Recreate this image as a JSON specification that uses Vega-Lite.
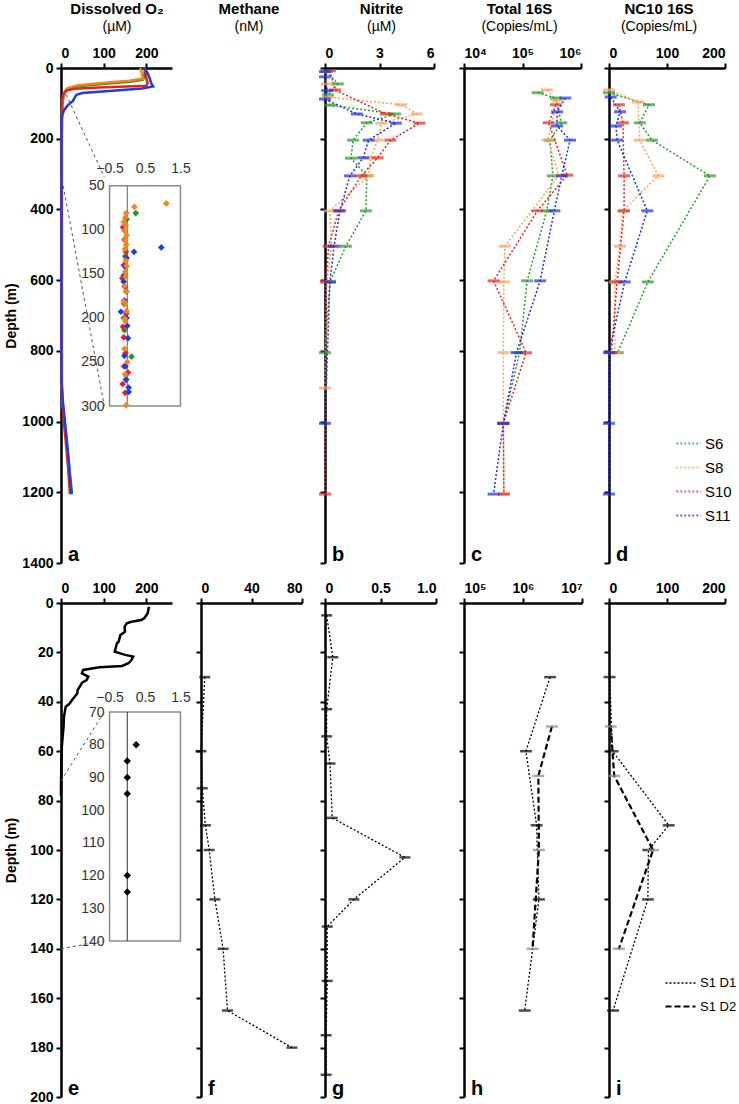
{
 "$schema": "https://vega.github.io/schema/vega-lite/v6.json",
 "padding": {"left": 4, "top": 2, "right": 0, "bottom": 0},
 "columns": 5,
 "spacing": {"row": 40, "column": 0},
 "bounds": "flush",
 "resolve": {"scale": {"color": "independent", "strokeDash": "independent", "strokeWidth": "independent"}},
 "config": {
  "font": "Liberation Sans",
  "view": {"stroke": null},
  "axis": {"domainColor": "black", "domainWidth": 2.5, "tickColor": "black", "tickWidth": 2, "tickSize": 5, "labelFontSize": 14, "labelFontWeight": "bold", "labelColor": "black", "labelPadding": 3, "grid": false, "titleFontSize": 14, "titleFontWeight": "bold", "titleColor": "black"},
  "title": {"fontSize": 15, "fontWeight": "bold", "subtitleFontSize": 14, "subtitleFontWeight": "normal", "subtitleColor": "black", "subtitlePadding": 3, "anchor": "middle", "frame": "group", "offset": 12, "color": "black"},
  "legend": {"labelFontSize": 15, "labelColor": "black", "symbolType": "stroke", "symbolStrokeWidth": 2, "rowPadding": 2, "labelOffset": 3, "symbolStrokeColor": "black"}
 },
 "datasets": {
  "o2_top": [
   {"station":"S6","o2":195,"depth":0},{"station":"S6","o2":196,"depth":10},{"station":"S6","o2":195,"depth":25},{"station":"S6","o2":192,"depth":33},{"station":"S6","o2":162,"depth":39},{"station":"S6","o2":110,"depth":44},{"station":"S6","o2":50,"depth":50},{"station":"S6","o2":22,"depth":55},{"station":"S6","o2":12,"depth":62},{"station":"S6","o2":8,"depth":72},{"station":"S6","o2":5,"depth":85},{"station":"S6","o2":3,"depth":100},{"station":"S6","o2":2,"depth":130},{"station":"S6","o2":2,"depth":200},{"station":"S6","o2":2,"depth":400},{"station":"S6","o2":2,"depth":600},{"station":"S6","o2":2,"depth":800},{"station":"S6","o2":2,"depth":900},{"station":"S6","o2":4,"depth":950},{"station":"S6","o2":10,"depth":1020},{"station":"S6","o2":17,"depth":1100},{"station":"S6","o2":22,"depth":1160},{"station":"S6","o2":26,"depth":1205},
   {"station":"S8","o2":185,"depth":0},{"station":"S8","o2":188,"depth":8},{"station":"S8","o2":190,"depth":20},{"station":"S8","o2":192,"depth":30},{"station":"S8","o2":160,"depth":36},{"station":"S8","o2":88,"depth":43},{"station":"S8","o2":40,"depth":49},{"station":"S8","o2":15,"depth":57},{"station":"S8","o2":9,"depth":66},{"station":"S8","o2":6,"depth":80},{"station":"S8","o2":4,"depth":100},{"station":"S8","o2":3,"depth":130},{"station":"S8","o2":2,"depth":200},{"station":"S8","o2":2,"depth":500},{"station":"S8","o2":2,"depth":900},{"station":"S8","o2":5,"depth":960},{"station":"S8","o2":12,"depth":1050},{"station":"S8","o2":18,"depth":1130},{"station":"S8","o2":22,"depth":1200},
   {"station":"S10","o2":196,"depth":0},{"station":"S10","o2":198,"depth":15},{"station":"S10","o2":200,"depth":30},{"station":"S10","o2":203,"depth":42},{"station":"S10","o2":200,"depth":50},{"station":"S10","o2":88,"depth":55},{"station":"S10","o2":30,"depth":59},{"station":"S10","o2":13,"depth":64},{"station":"S10","o2":6,"depth":72},{"station":"S10","o2":3,"depth":90},{"station":"S10","o2":2,"depth":120},{"station":"S10","o2":1,"depth":160},{"station":"S10","o2":1,"depth":400},{"station":"S10","o2":1,"depth":800},{"station":"S10","o2":1,"depth":900},{"station":"S10","o2":3,"depth":950},{"station":"S10","o2":9,"depth":1030},{"station":"S10","o2":16,"depth":1120},{"station":"S10","o2":21,"depth":1205},
   {"station":"S11","o2":196,"depth":0},{"station":"S11","o2":203,"depth":15},{"station":"S11","o2":208,"depth":30},{"station":"S11","o2":212,"depth":45},{"station":"S11","o2":216,"depth":52},{"station":"S11","o2":190,"depth":58},{"station":"S11","o2":120,"depth":64},{"station":"S11","o2":50,"depth":71},{"station":"S11","o2":36,"depth":76},{"station":"S11","o2":31,"depth":86},{"station":"S11","o2":28,"depth":93},{"station":"S11","o2":20,"depth":101},{"station":"S11","o2":14,"depth":108},{"station":"S11","o2":7,"depth":120},{"station":"S11","o2":3,"depth":133},{"station":"S11","o2":1,"depth":148},{"station":"S11","o2":1,"depth":300},{"station":"S11","o2":1,"depth":600},{"station":"S11","o2":1,"depth":880},{"station":"S11","o2":4,"depth":940},{"station":"S11","o2":11,"depth":1020},{"station":"S11","o2":18,"depth":1110},{"station":"S11","o2":24,"depth":1205}
  ],
  "o2_top_inset": [
   {"station":"S6","v":0.24,"depth":81},{"station":"S6","v":-0.02,"depth":88},{"station":"S6","v":-0.06,"depth":130},{"station":"S6","v":-0.1,"depth":200},{"station":"S6","v":-0.08,"depth":214},{"station":"S6","v":0.12,"depth":244},{"station":"S6","v":-0.04,"depth":270},
   {"station":"S10","v":-0.12,"depth":97},{"station":"S10","v":-0.08,"depth":111},{"station":"S10","v":-0.04,"depth":125},{"station":"S10","v":-0.1,"depth":140},{"station":"S10","v":-0.14,"depth":155},{"station":"S10","v":-0.06,"depth":165},{"station":"S10","v":-0.09,"depth":184},{"station":"S10","v":-0.03,"depth":195},{"station":"S10","v":-0.12,"depth":210},{"station":"S10","v":-0.1,"depth":222},{"station":"S10","v":-0.05,"depth":240},{"station":"S10","v":-0.09,"depth":255},{"station":"S10","v":0.02,"depth":262},{"station":"S10","v":-0.13,"depth":275},{"station":"S10","v":-0.06,"depth":285},
   {"station":"S11","v":0.96,"depth":120},{"station":"S11","v":0.19,"depth":125},{"station":"S11","v":-0.02,"depth":132},{"station":"S11","v":-0.06,"depth":142},{"station":"S11","v":-0.1,"depth":152},{"station":"S11","v":-0.1,"depth":159},{"station":"S11","v":-0.03,"depth":170},{"station":"S11","v":-0.08,"depth":180},{"station":"S11","v":-0.18,"depth":193},{"station":"S11","v":-0.02,"depth":200},{"station":"S11","v":0.0,"depth":209},{"station":"S11","v":0.02,"depth":223},{"station":"S11","v":-0.08,"depth":243},{"station":"S11","v":-0.05,"depth":255},{"station":"S11","v":-0.03,"depth":270},{"station":"S11","v":0.04,"depth":279},{"station":"S11","v":0.04,"depth":284},
   {"station":"S8","v":1.1,"depth":70},{"station":"S8","v":0.2,"depth":74},{"station":"S8","v":-0.03,"depth":81},{"station":"S8","v":-0.06,"depth":86},{"station":"S8","v":-0.1,"depth":91},{"station":"S8","v":-0.04,"depth":95},{"station":"S8","v":-0.08,"depth":101},{"station":"S8","v":-0.02,"depth":106},{"station":"S8","v":-0.06,"depth":111},{"station":"S8","v":-0.03,"depth":117},{"station":"S8","v":-0.07,"depth":122},{"station":"S8","v":-0.04,"depth":135},{"station":"S8","v":-0.02,"depth":141},{"station":"S8","v":-0.06,"depth":148},{"station":"S8","v":-0.05,"depth":153},{"station":"S8","v":-0.08,"depth":164},{"station":"S8","v":-0.03,"depth":170},{"station":"S8","v":-0.1,"depth":181},{"station":"S8","v":-0.06,"depth":184},{"station":"S8","v":-0.02,"depth":192},{"station":"S8","v":-0.07,"depth":201},{"station":"S8","v":-0.05,"depth":204},{"station":"S8","v":-0.08,"depth":235},{"station":"S8","v":0.0,"depth":250},{"station":"S8","v":-0.06,"depth":264},{"station":"S8","v":-0.03,"depth":299}
  ],
  "nitrite_top": [
   {"station":"S6","v":0.1,"depth":10},{"station":"S6","v":0.7,"depth":45},{"station":"S6","v":0.17,"depth":76},{"station":"S6","v":0.27,"depth":105},{"station":"S6","v":3.85,"depth":130},{"station":"S6","v":2.3,"depth":155},{"station":"S6","v":1.55,"depth":204},{"station":"S6","v":1.43,"depth":255},{"station":"S6","v":2.3,"depth":305},{"station":"S6","v":2.25,"depth":404},{"station":"S6","v":1.15,"depth":504},{"station":"S6","v":0.27,"depth":605},{"station":"S6","v":0.0,"depth":805},
   {"station":"S8","v":0.05,"depth":10},{"station":"S8","v":0.1,"depth":45},{"station":"S8","v":0.15,"depth":82},{"station":"S8","v":4.2,"depth":104},{"station":"S8","v":5.05,"depth":130},{"station":"S8","v":3.1,"depth":156},{"station":"S8","v":2.9,"depth":204},{"station":"S8","v":2.5,"depth":254},{"station":"S8","v":2.4,"depth":305},{"station":"S8","v":0.27,"depth":404},{"station":"S8","v":0.35,"depth":504},{"station":"S8","v":0.1,"depth":605},{"station":"S8","v":0.0,"depth":905},
   {"station":"S10","v":0.27,"depth":8},{"station":"S10","v":0.55,"depth":62},{"station":"S10","v":3.35,"depth":130},{"station":"S10","v":5.2,"depth":156},{"station":"S10","v":3.6,"depth":204},{"station":"S10","v":2.9,"depth":254},{"station":"S10","v":2.0,"depth":305},{"station":"S10","v":0.75,"depth":404},{"station":"S10","v":0.2,"depth":504},{"station":"S10","v":0.05,"depth":605},{"station":"S10","v":0.0,"depth":1205},
   {"station":"S11","v":0.0,"depth":10},{"station":"S11","v":0.0,"depth":25},{"station":"S11","v":0.12,"depth":64},{"station":"S11","v":0.0,"depth":88},{"station":"S11","v":1.75,"depth":130},{"station":"S11","v":3.9,"depth":156},{"station":"S11","v":2.4,"depth":204},{"station":"S11","v":2.1,"depth":254},{"station":"S11","v":1.37,"depth":305},{"station":"S11","v":0.82,"depth":404},{"station":"S11","v":0.5,"depth":504},{"station":"S11","v":0.27,"depth":605},{"station":"S11","v":0.0,"depth":1005}
  ],
  "total_top": [
   {"station":"S6","v":182000,"depth":70},{"station":"S6","v":370000,"depth":85},{"station":"S6","v":460000,"depth":155},{"station":"S6","v":295000,"depth":204},{"station":"S6","v":330000,"depth":305},{"station":"S6","v":260000,"depth":404},{"station":"S6","v":120000,"depth":602},{"station":"S6","v":89000,"depth":805},{"station":"S6","v":47000,"depth":1005},
   {"station":"S8","v":260000,"depth":62},{"station":"S8","v":390000,"depth":93},{"station":"S8","v":270000,"depth":204},{"station":"S8","v":420000,"depth":303},{"station":"S8","v":50000,"depth":504},{"station":"S8","v":48000,"depth":605},{"station":"S8","v":47000,"depth":805},{"station":"S8","v":47000,"depth":1005},{"station":"S8","v":48000,"depth":1205},
   {"station":"S10","v":370000,"depth":104},{"station":"S10","v":280000,"depth":155},{"station":"S10","v":580000,"depth":303},{"station":"S10","v":180000,"depth":404},{"station":"S10","v":32000,"depth":602},{"station":"S10","v":115000,"depth":805},{"station":"S10","v":47000,"depth":1005},{"station":"S10","v":48000,"depth":1205},
   {"station":"S11","v":540000,"depth":85},{"station":"S11","v":390000,"depth":124},{"station":"S11","v":390000,"depth":164},{"station":"S11","v":650000,"depth":204},{"station":"S11","v":470000,"depth":305},{"station":"S11","v":350000,"depth":404},{"station":"S11","v":200000,"depth":602},{"station":"S11","v":79000,"depth":805},{"station":"S11","v":47000,"depth":1005},{"station":"S11","v":32000,"depth":1205}
  ],
  "nc10_top": [
   {"station":"S6","v":0,"depth":70},{"station":"S6","v":69,"depth":104},{"station":"S6","v":53,"depth":155},{"station":"S6","v":74,"depth":204},{"station":"S6","v":174,"depth":305},{"station":"S6","v":67,"depth":605},{"station":"S6","v":15,"depth":805},
   {"station":"S8","v":0,"depth":62},{"station":"S8","v":50,"depth":96},{"station":"S8","v":53,"depth":204},{"station":"S8","v":85,"depth":305},{"station":"S8","v":24,"depth":404},{"station":"S8","v":19,"depth":504},{"station":"S8","v":10,"depth":605},{"station":"S8","v":10,"depth":805},
   {"station":"S10","v":17,"depth":104},{"station":"S10","v":24,"depth":155},{"station":"S10","v":26,"depth":305},{"station":"S10","v":26,"depth":404},{"station":"S10","v":14,"depth":605},{"station":"S10","v":4,"depth":805},
   {"station":"S11","v":3,"depth":82},{"station":"S11","v":19,"depth":124},{"station":"S11","v":12,"depth":164},{"station":"S11","v":14,"depth":204},{"station":"S11","v":66,"depth":404},{"station":"S11","v":27,"depth":605},{"station":"S11","v":0,"depth":805},{"station":"S11","v":0,"depth":1005},{"station":"S11","v":0,"depth":1205}
  ],
  "o2_bot": [
   {"o2":206,"depth":1.5},{"o2":203,"depth":4.2},{"o2":195,"depth":6.2},{"o2":188,"depth":6.9},{"o2":165,"depth":7.6},{"o2":154,"depth":8.2},{"o2":149,"depth":9.6},{"o2":150,"depth":11.6},{"o2":139,"depth":13},{"o2":135,"depth":15.7},{"o2":131,"depth":16.3},{"o2":128,"depth":18.3},{"o2":126,"depth":19.7},{"o2":150,"depth":21},{"o2":169,"depth":21.7},{"o2":165,"depth":23.1},{"o2":158,"depth":24.4},{"o2":143,"depth":25.5},{"o2":90,"depth":26},{"o2":52,"depth":27.1},{"o2":49,"depth":28.5},{"o2":64,"depth":29.8},{"o2":60,"depth":31.2},{"o2":49,"depth":32.3},{"o2":45,"depth":33.6},{"o2":39,"depth":35.2},{"o2":38,"depth":36.6},{"o2":26,"depth":39.3},{"o2":19,"depth":40.9},{"o2":11,"depth":42},{"o2":7,"depth":46},{"o2":6,"depth":50},{"o2":4,"depth":54},{"o2":2,"depth":58},{"o2":1,"depth":63.6},{"o2":0,"depth":74.4},{"o2":0,"depth":78}
  ],
  "o2_bot_inset": [
   {"v":0.25,"depth":80},{"v":0,"depth":85},{"v":0,"depth":90},{"v":0,"depth":95},{"v":0,"depth":120},{"v":0,"depth":125}
  ],
  "methane_bot": [
   {"v":3,"depth":30},{"v":0,"depth":60},{"v":1,"depth":75},{"v":3.5,"depth":90},{"v":6.5,"depth":100},{"v":11,"depth":120},{"v":17.5,"depth":140},{"v":21,"depth":165},{"v":72,"depth":180}
  ],
  "nitrite_bot": [
   {"v":0.015,"depth":5},{"v":0.07,"depth":22},{"v":0.015,"depth":43},{"v":0.015,"depth":54},{"v":0.045,"depth":65},{"v":0.065,"depth":87},{"v":0.72,"depth":103},{"v":0.26,"depth":120},{"v":0.02,"depth":131},{"v":0.02,"depth":153},{"v":0.01,"depth":175},{"v":0.01,"depth":191}
  ],
  "total_bot": [
   {"series":"S1 D1","v":2880000,"depth":30},{"series":"S1 D1","v":1120000,"depth":60},{"series":"S1 D1","v":1700000,"depth":90},{"series":"S1 D1","v":1860000,"depth":120},{"series":"S1 D1","v":1070000,"depth":165},
   {"series":"S1 D2","v":3090000,"depth":50},{"series":"S1 D2","v":1820000,"depth":70},{"series":"S1 D2","v":1860000,"depth":100},{"series":"S1 D2","v":1450000,"depth":140}
  ],
  "nc10_bot": [
   {"series":"S1 D1","v":1,"depth":30},{"series":"S1 D1","v":6,"depth":60},{"series":"S1 D1","v":103,"depth":90},{"series":"S1 D1","v":68,"depth":100},{"series":"S1 D1","v":67,"depth":120},{"series":"S1 D1","v":7,"depth":165},
   {"series":"S1 D2","v":3,"depth":50},{"series":"S1 D2","v":9,"depth":70},{"series":"S1 D2","v":76,"depth":100},{"series":"S1 D2","v":17,"depth":140}
  ]
 },
 "concat": [
  {
   "width": 140, "height": 495,
   "title": {"text": "Dissolved O₂", "subtitle": "(µM)", "dx": -14},
   "resolve": {"scale": {"x": "independent", "y": "independent"}},
   "layer": [
    {"layer": [
     {"data": {"name": "o2_top"}, "mark": {"type": "line", "strokeWidth": 2.5},
      "encoding": {
       "x": {"field": "o2", "type": "quantitative", "scale": {"domain": [0, 250], "range": [0, 111]}, "axis": {"orient": "top", "values": [0, 100, 200], "title": null}},
       "y": {"field": "depth", "type": "quantitative", "scale": {"domain": [0, 1400], "range": [0, 495]}, "axis": {"orient": "left", "values": [0, 200, 400, 600, 800, 1000, 1200, 1400], "format": "d", "title": "Depth (m)", "titlePadding": 3}},
       "color": {"field": "station", "type": "nominal", "scale": {"domain": ["S6", "S8", "S10", "S11"], "range": ["#2b8f2b", "#f2851d", "#e8231c", "#1e3de6"]}, "legend": null},
       "order": {"field": "depth", "type": "quantitative"}
      }},
     {"data": {"values": [{}]}, "mark": {"type": "rule", "strokeDash": [3, 3], "color": "#555", "strokeWidth": 1},
      "encoding": {"x": {"datum": 12}, "y": {"datum": 75}, "x2": {"datum": 101.4}, "y2": {"datum": 308}}},
     {"data": {"values": [{}]}, "mark": {"type": "rule", "strokeDash": [3, 3], "color": "#555", "strokeWidth": 1},
      "encoding": {"x": {"datum": 0}, "y": {"datum": 300}, "x2": {"datum": 101.4}, "y2": {"datum": 956}}},
     {"data": {"values": [{}]}, "mark": {"type": "text", "text": "a", "align": "left", "baseline": "alphabetic", "dx": 7, "dy": -2, "fontSize": 20, "fontWeight": "bold"},
      "encoding": {"x": {"datum": 0}, "y": {"datum": 1400}}}
    ]},
    {"layer": [
     {"data": {"values": [{}]}, "mark": {"type": "rect", "fill": "white", "stroke": "#8a8a8a", "strokeWidth": 1.5},
      "encoding": {
       "x": {"datum": -0.5, "type": "quantitative", "scale": {"domain": [-0.5, 1.5], "range": [45, 123]}, "axis": {"orient": "top", "offset": -109, "values": [-0.5, 0.5, 1.5], "format": ".1f", "domain": false, "ticks": false, "labelFontWeight": "normal", "labelColor": "#333", "labelPadding": 2, "title": null}},
       "x2": {"datum": 1.5},
       "y": {"datum": 50, "type": "quantitative", "scale": {"domain": [50, 300], "range": [109, 338]}, "axis": {"orient": "left", "offset": -45, "values": [50, 100, 150, 200, 250, 300], "domain": false, "ticks": false, "labelFontWeight": "normal", "labelColor": "#333", "labelPadding": 2, "title": null}},
       "y2": {"datum": 300}
      }},
     {"data": {"values": [{}]}, "mark": {"type": "rule", "color": "#666", "strokeWidth": 1},
      "encoding": {"x": {"datum": 0}, "y": {"datum": 50}, "y2": {"datum": 300}}},
     {"data": {"name": "o2_top_inset"}, "mark": {"type": "point", "shape": "diamond", "filled": true, "size": 45, "opacity": 1},
      "encoding": {"x": {"field": "v", "type": "quantitative"}, "y": {"field": "depth", "type": "quantitative"}, "color": {"field": "station", "type": "nominal", "legend": null}}}
    ]}
   ]
  },
  {
   "width": 124, "height": 495,
   "title": {"text": "Methane", "subtitle": "(nM)", "dx": -14, "offset": 34},
   "data": {"values": [{}]},
   "mark": {"type": "text", "text": ""},
   "encoding": {}
  },
  {
   "width": 139, "height": 495,
   "title": {"text": "Nitrite", "subtitle": "(µM)", "dx": -13},
   "layer": [
    {"data": {"name": "nitrite_top"}, "mark": {"type": "line", "strokeWidth": 1.5, "strokeDash": [2, 2]},
     "encoding": {
      "x": {"field": "v", "type": "quantitative", "scale": {"domain": [0, 6], "range": [0, 109]}, "axis": {"orient": "top", "values": [0, 3, 6], "title": null}},
      "y": {"field": "depth", "type": "quantitative", "scale": {"domain": [0, 1400], "range": [0, 495]}, "axis": {"orient": "left", "values": [0, 200, 400, 600, 800, 1000, 1200, 1400], "labels": false, "title": null}},
      "color": {"field": "station", "type": "nominal", "scale": {"domain": ["S6", "S8", "S10", "S11"], "range": ["#2a9a2a", "#f7a35c", "#e8251d", "#1a2fe8"]}, "legend": null},
      "order": {"field": "depth", "type": "quantitative"}
     }},
    {"data": {"name": "nitrite_top"}, "mark": {"type": "tick", "orient": "horizontal", "size": 12, "thickness": 3},
     "encoding": {"x": {"field": "v", "type": "quantitative"}, "y": {"field": "depth", "type": "quantitative"}, "color": {"field": "station", "type": "nominal", "legend": null}}},
    {"data": {"values": [{}]}, "mark": {"type": "text", "text": "b", "align": "left", "baseline": "alphabetic", "dx": 7, "dy": -2, "fontSize": 20, "fontWeight": "bold"},
     "encoding": {"x": {"datum": 0}, "y": {"datum": 1400}}}
   ]
  },
  {
   "width": 145, "height": 495,
   "title": {"text": "Total 16S", "subtitle": "(Copies/mL)", "dx": -17},
   "layer": [
    {"data": {"name": "total_top"}, "mark": {"type": "line", "strokeWidth": 1.5, "strokeDash": [2, 2]},
     "encoding": {
      "x": {"field": "v", "type": "quantitative", "scale": {"type": "log", "domain": [10000, 1000000], "range": [0, 117]}, "axis": {"orient": "top", "values": [10000, 100000, 1000000], "labelExpr": "datum.value < 50000 ? '10⁴' : datum.value < 500000 ? '10⁵' : '10⁶'", "title": null}},
      "y": {"field": "depth", "type": "quantitative", "scale": {"domain": [0, 1400], "range": [0, 495]}, "axis": {"orient": "left", "values": [0, 200, 400, 600, 800, 1000, 1200, 1400], "labels": false, "title": null}},
      "color": {"field": "station", "type": "nominal", "scale": {"domain": ["S6", "S8", "S10", "S11"], "range": ["#2a9a2a", "#f7a35c", "#e8251d", "#1a2fe8"]}, "legend": null},
      "order": {"field": "depth", "type": "quantitative"}
     }},
    {"data": {"name": "total_top"}, "mark": {"type": "tick", "orient": "horizontal", "size": 12, "thickness": 3},
     "encoding": {"x": {"field": "v", "type": "quantitative"}, "y": {"field": "depth", "type": "quantitative"}, "color": {"field": "station", "type": "nominal", "legend": null}}},
    {"data": {"values": [{}]}, "mark": {"type": "text", "text": "c", "align": "left", "baseline": "alphabetic", "dx": 7, "dy": -2, "fontSize": 20, "fontWeight": "bold"},
     "encoding": {"x": {"datum": 10000}, "y": {"datum": 1400}}}
   ]
  },
  {
   "width": 116, "height": 495,
   "title": {"text": "NC10 16S", "subtitle": "(Copies/mL)", "dx": -8},
   "layer": [
    {"data": {"name": "nc10_top"}, "mark": {"type": "line", "strokeWidth": 1.5, "strokeDash": [2, 2]},
     "encoding": {
      "x": {"field": "v", "type": "quantitative", "scale": {"domain": [0, 200], "range": [0, 116]}, "axis": {"orient": "top", "values": [0, 100, 200], "title": null}},
      "y": {"field": "depth", "type": "quantitative", "scale": {"domain": [0, 1400], "range": [0, 495]}, "axis": {"orient": "left", "values": [0, 200, 400, 600, 800, 1000, 1200, 1400], "labels": false, "title": null}},
      "color": {"field": "station", "type": "nominal", "scale": {"domain": ["S6", "S8", "S10", "S11"], "range": ["#2a9a2a", "#f7a35c", "#e8251d", "#1a2fe8"]}, "legend": {"orient": "none", "legendX": 66, "legendY": 362, "title": null, "symbolDash": [2, 2], "symbolSize": 600, "symbolStrokeColor": null}},
      "order": {"field": "depth", "type": "quantitative"}
     }},
    {"data": {"name": "nc10_top"}, "mark": {"type": "tick", "orient": "horizontal", "size": 12, "thickness": 3},
     "encoding": {"x": {"field": "v", "type": "quantitative"}, "y": {"field": "depth", "type": "quantitative"}, "color": {"field": "station", "type": "nominal", "legend": {"orient": "none", "legendX": 66, "legendY": 362, "title": null, "symbolDash": [2, 2], "symbolSize": 600, "symbolStrokeColor": null}}}},
    {"data": {"values": [{}]}, "mark": {"type": "text", "text": "d", "align": "left", "baseline": "alphabetic", "dx": 7, "dy": -2, "fontSize": 20, "fontWeight": "bold"},
     "encoding": {"x": {"datum": 0}, "y": {"datum": 1400}}}
   ]
  },
  {
   "width": 140, "height": 494,
   "resolve": {"scale": {"x": "independent", "y": "independent"}},
   "layer": [
    {"layer": [
     {"data": {"name": "o2_bot"}, "mark": {"type": "line", "strokeWidth": 2.5, "color": "black"},
      "encoding": {
       "x": {"field": "o2", "type": "quantitative", "scale": {"domain": [0, 250], "range": [0, 111]}, "axis": {"orient": "top", "values": [0, 100, 200], "title": null}},
       "y": {"field": "depth", "type": "quantitative", "scale": {"domain": [0, 200], "range": [0, 494]}, "axis": {"orient": "left", "values": [0, 20, 40, 60, 80, 100, 120, 140, 160, 180, 200], "title": "Depth (m)", "titlePadding": 11}},
       "order": {"field": "depth", "type": "quantitative"}
      }},
     {"data": {"values": [{}]}, "mark": {"type": "rule", "strokeDash": [3, 3], "color": "#555", "strokeWidth": 1},
      "encoding": {"x": {"datum": 0}, "y": {"datum": 72}, "x2": {"datum": 101.4}, "y2": {"datum": 44.1}}},
     {"data": {"values": [{}]}, "mark": {"type": "rule", "strokeDash": [3, 3], "color": "#555", "strokeWidth": 1},
      "encoding": {"x": {"datum": 0}, "y": {"datum": 140}, "x2": {"datum": 101.4}, "y2": {"datum": 136.8}}},
     {"data": {"values": [{}]}, "mark": {"type": "text", "text": "e", "align": "left", "baseline": "alphabetic", "dx": 7, "dy": -2, "fontSize": 20, "fontWeight": "bold"},
      "encoding": {"x": {"datum": 0}, "y": {"datum": 200}}}
    ]},
    {"layer": [
     {"data": {"values": [{}]}, "mark": {"type": "rect", "fill": "white", "stroke": "#8a8a8a", "strokeWidth": 1.5},
      "encoding": {
       "x": {"datum": -0.5, "type": "quantitative", "scale": {"domain": [-0.5, 1.5], "range": [45, 123]}, "axis": {"orient": "top", "offset": -109, "values": [-0.5, 0.5, 1.5], "format": ".1f", "domain": false, "ticks": false, "labelFontWeight": "normal", "labelColor": "#333", "labelPadding": 8, "title": null}},
       "x2": {"datum": 1.5},
       "y": {"datum": 70, "type": "quantitative", "scale": {"domain": [70, 140], "range": [109, 338]}, "axis": {"orient": "left", "offset": -45, "values": [70, 80, 90, 100, 110, 120, 130, 140], "domain": false, "ticks": false, "labelFontWeight": "normal", "labelColor": "#333", "labelPadding": 2, "title": null}},
       "y2": {"datum": 140}
      }},
     {"data": {"values": [{}]}, "mark": {"type": "rule", "color": "#333", "strokeWidth": 1},
      "encoding": {"x": {"datum": 0}, "y": {"datum": 70}, "y2": {"datum": 140}}},
     {"data": {"name": "o2_bot_inset"}, "mark": {"type": "point", "shape": "diamond", "filled": true, "size": 55, "opacity": 1, "color": "black"},
      "encoding": {"x": {"field": "v", "type": "quantitative"}, "y": {"field": "depth", "type": "quantitative"}}}
    ]}
   ]
  },
  {
   "width": 124, "height": 494,
   "layer": [
    {"data": {"name": "methane_bot"}, "mark": {"type": "line", "strokeWidth": 1.3, "strokeDash": [2, 2], "color": "black"},
     "encoding": {
      "x": {"field": "v", "type": "quantitative", "scale": {"domain": [0, 80], "range": [0, 101]}, "axis": {"orient": "top", "values": [0, 40, 80], "title": null}},
      "y": {"field": "depth", "type": "quantitative", "scale": {"domain": [0, 200], "range": [0, 494]}, "axis": {"orient": "left", "values": [0, 20, 40, 60, 80, 100, 120, 140, 160, 180, 200], "labels": false, "title": null}},
      "order": {"field": "depth", "type": "quantitative"}
     }},
    {"data": {"name": "methane_bot"}, "mark": {"type": "tick", "orient": "horizontal", "size": 11, "thickness": 2.5, "color": "black"},
     "encoding": {"x": {"field": "v", "type": "quantitative"}, "y": {"field": "depth", "type": "quantitative"}}},
    {"data": {"values": [{}]}, "mark": {"type": "text", "text": "f", "align": "left", "baseline": "alphabetic", "dx": 7, "dy": -2, "fontSize": 20, "fontWeight": "bold"},
     "encoding": {"x": {"datum": 0}, "y": {"datum": 200}}}
   ]
  },
  {
   "width": 139, "height": 494,
   "layer": [
    {"data": {"name": "nitrite_bot"}, "mark": {"type": "line", "strokeWidth": 1.3, "strokeDash": [2, 2], "color": "black"},
     "encoding": {
      "x": {"field": "v", "type": "quantitative", "scale": {"domain": [0, 1], "range": [0, 111]}, "axis": {"orient": "top", "values": [0, 0.5, 1], "labelExpr": "datum.value == 1 ? '1.0' : datum.value == 0 ? '0' : '0.5'", "title": null}},
      "y": {"field": "depth", "type": "quantitative", "scale": {"domain": [0, 200], "range": [0, 494]}, "axis": {"orient": "left", "values": [0, 20, 40, 60, 80, 100, 120, 140, 160, 180, 200], "labels": false, "title": null}},
      "order": {"field": "depth", "type": "quantitative"}
     }},
    {"data": {"name": "nitrite_bot"}, "mark": {"type": "tick", "orient": "horizontal", "size": 11, "thickness": 2.5, "color": "black"},
     "encoding": {"x": {"field": "v", "type": "quantitative"}, "y": {"field": "depth", "type": "quantitative"}}},
    {"data": {"values": [{}]}, "mark": {"type": "text", "text": "g", "align": "left", "baseline": "alphabetic", "dx": 7, "dy": -2, "fontSize": 20, "fontWeight": "bold"},
     "encoding": {"x": {"datum": 0}, "y": {"datum": 200}}}
   ]
  },
  {
   "width": 145, "height": 494,
   "layer": [
    {"data": {"name": "total_bot"}, "mark": {"type": "line", "color": "black"},
     "encoding": {
      "x": {"field": "v", "type": "quantitative", "scale": {"type": "log", "domain": [100000, 10000000], "range": [0, 118]}, "axis": {"orient": "top", "values": [100000, 1000000, 10000000], "labelExpr": "datum.value < 500000 ? '10⁵' : datum.value < 5000000 ? '10⁶' : '10⁷'", "title": null}},
      "y": {"field": "depth", "type": "quantitative", "scale": {"domain": [0, 200], "range": [0, 494]}, "axis": {"orient": "left", "values": [0, 20, 40, 60, 80, 100, 120, 140, 160, 180, 200], "labels": false, "title": null}},
      "strokeDash": {"field": "series", "type": "nominal", "scale": {"domain": ["S1 D1", "S1 D2"], "range": [[2, 2], [6, 3]]}, "legend": null},
      "strokeWidth": {"field": "series", "type": "nominal", "scale": {"domain": ["S1 D1", "S1 D2"], "range": [1.3, 2.2]}, "legend": null},
      "order": {"field": "depth", "type": "quantitative"}
     }},
    {"data": {"name": "total_bot"}, "mark": {"type": "tick", "orient": "horizontal", "size": 12, "thickness": 2.5},
     "encoding": {"x": {"field": "v", "type": "quantitative"}, "y": {"field": "depth", "type": "quantitative"}, "color": {"field": "series", "type": "nominal", "scale": {"domain": ["S1 D1", "S1 D2"], "range": ["black", "#8a8a8a"]}, "legend": null}}},
    {"data": {"values": [{}]}, "mark": {"type": "text", "text": "h", "align": "left", "baseline": "alphabetic", "dx": 7, "dy": -2, "fontSize": 20, "fontWeight": "bold"},
     "encoding": {"x": {"datum": 100000}, "y": {"datum": 200}}}
   ]
  },
  {
   "width": 116, "height": 494,
   "layer": [
    {"data": {"name": "nc10_bot"}, "mark": {"type": "line", "color": "black"},
     "encoding": {
      "x": {"field": "v", "type": "quantitative", "scale": {"domain": [0, 200], "range": [0, 116]}, "axis": {"orient": "top", "values": [0, 100, 200], "title": null}},
      "y": {"field": "depth", "type": "quantitative", "scale": {"domain": [0, 200], "range": [0, 494]}, "axis": {"orient": "left", "values": [0, 20, 40, 60, 80, 100, 120, 140, 160, 180, 200], "labels": false, "title": null}},
      "strokeDash": {"field": "series", "type": "nominal", "scale": {"domain": ["S1 D1", "S1 D2"], "range": [[2, 2], [6, 3]]}, "legend": {"orient": "none", "legendX": 55, "legendY": 364, "title": null, "symbolSize": 900, "rowPadding": 0, "labelFontSize": 13}},
      "strokeWidth": {"field": "series", "type": "nominal", "scale": {"domain": ["S1 D1", "S1 D2"], "range": [1.3, 2.2]}, "legend": null},
      "order": {"field": "depth", "type": "quantitative"}
     }},
    {"data": {"name": "nc10_bot"}, "mark": {"type": "tick", "orient": "horizontal", "size": 12, "thickness": 2.5},
     "encoding": {"x": {"field": "v", "type": "quantitative"}, "y": {"field": "depth", "type": "quantitative"}, "color": {"field": "series", "type": "nominal", "scale": {"domain": ["S1 D1", "S1 D2"], "range": ["black", "#8a8a8a"]}, "legend": null}}},
    {"data": {"values": [{}]}, "mark": {"type": "text", "text": "i", "align": "left", "baseline": "alphabetic", "dx": 7, "dy": -2, "fontSize": 20, "fontWeight": "bold"},
     "encoding": {"x": {"datum": 0}, "y": {"datum": 200}}}
   ]
  }
 ]
}
